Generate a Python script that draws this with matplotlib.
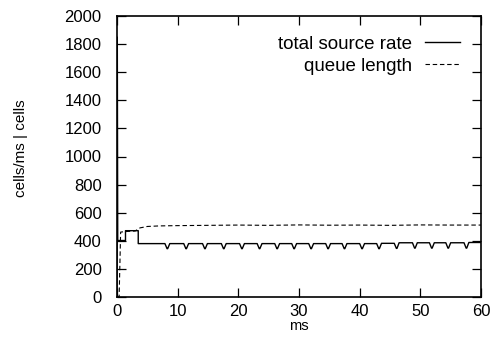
import matplotlib
matplotlib.use("Agg")
import matplotlib.pyplot as plt

# ---- data ----
rate_t = [0.0, 0.05, 0.12, 1.4, 1.4, 3.5, 3.5,
          7.9, 8.25, 8.35, 8.7,
          11.0, 11.35, 11.45, 11.8,
          14.1, 14.45, 14.55, 14.9,
          17.2, 17.55, 17.65, 18.0,
          20.2, 20.55, 20.65, 21.0,
          23.1, 23.45, 23.55, 23.9,
          26.0, 26.35, 26.45, 26.8,
          28.8, 29.15, 29.25, 29.6,
          31.6, 31.95, 32.05, 32.4,
          34.4, 34.75, 34.85, 35.2,
          37.1, 37.45, 37.55, 37.9,
          40.0, 40.35, 40.45, 40.8,
          42.8, 43.15, 43.25, 43.6,
          45.7, 46.05, 46.15, 46.5,
          48.7, 49.05, 49.15, 49.5,
          51.5, 51.85, 51.95, 52.3,
          54.2, 54.55, 54.65, 55.0,
          57.2, 57.55, 57.65, 58.0,
          60.0]
rate_v = [0, 1850, 402, 402, 472, 472, 380,
          380, 344, 344, 380,
          380, 344, 344, 380,
          380, 344, 344, 380,
          380, 344, 344, 380,
          380, 344, 344, 380,
          380, 344, 344, 380,
          380, 344, 344, 380,
          380, 344, 344, 380,
          380, 344, 344, 380,
          380, 344, 344, 380,
          380, 344, 344, 380,
          380, 344, 344, 380,
          380, 344, 344, 382,
          382, 346, 346, 386,
          386, 348, 348, 386,
          386, 348, 348, 386,
          386, 348, 348, 386,
          386, 348, 348, 388,
          388]

queue_t = [0.0, 0.35, 0.6, 1.5, 3.0, 3.8, 5.0, 7.0, 10, 15, 20, 25,
           30, 35, 40, 45, 50, 55, 60]
queue_v = [0, 0, 462, 466, 470, 492, 502, 506, 508, 510, 512, 510,
           513, 511, 512, 510, 513, 512, 512]

x_ticks = [0, 10, 20, 30, 40, 50, 60]
y_ticks = [0, 200, 400, 600, 800, 1000, 1200, 1400, 1600, 1800, 2000]
labels = ["total source rate", "queue length"]

# ---- figure ----
plt.rcParams['font.family'] = ['Liberation Sans', 'DejaVu Sans']
fig = plt.figure(figsize=(5.01, 3.44), dpi=100)
ax = fig.add_axes([117/501, 1-297/344, 364/501, 281/344])

ax.plot(rate_t, rate_v, color='black', lw=1.0, label=labels[0])
ax.plot(queue_t, queue_v, color='black', lw=0.8, dashes=(4, 2.5), label=labels[1])

ax.set_xlim(0, 60)
ax.set_ylim(0, 2000)
ax.set_xticks(x_ticks)
ax.set_yticks(y_ticks)
ax.tick_params(direction='in', length=6.5, width=0.9, top=True, right=True,
               labelsize=12, colors='black')
ax.tick_params(axis='y', pad=11)
ax.tick_params(axis='x', pad=5)
for s in ax.spines.values():
    s.set_linewidth(1.2)

ax.set_xlabel("ms", fontsize=10.5, labelpad=0)
ax.set_ylabel("cells/ms | cells", fontsize=11)
ax.yaxis.set_label_coords(-0.245, 0.53)

leg = ax.legend(loc='upper right', bbox_to_anchor=(0.942, 0.93),
                frameon=False, markerfirst=False, fontsize=13.5,
                handlelength=1.87, handletextpad=0.7, labelspacing=0.25,
                borderpad=0, borderaxespad=0)

fig.savefig("out.png", dpi=100)
